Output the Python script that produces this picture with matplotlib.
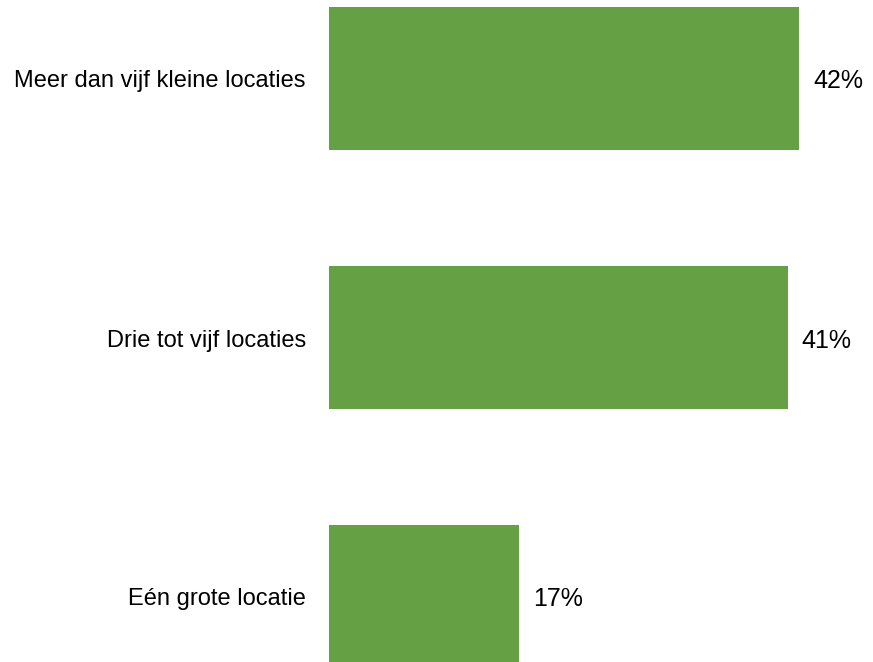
import matplotlib
matplotlib.use("Agg")
import matplotlib.pyplot as plt

categories = ["Meer dan vijf kleine locaties", "Drie tot vijf locaties", "Eén grote locatie"]
values = [42, 41, 17]
value_labels = ["42%", "41%", "17%"]

plt.rcParams['font.family'] = ['Liberation Sans', 'DejaVu Sans']

W, H = 873, 662
fig = plt.figure(figsize=(W / 100, H / 100), dpi=100)
ax = fig.add_axes([329 / W, 0, 1 - 329 / W, 1])

px_per_unit = 11.19
spacing = 259.0
ypos = list(range(len(categories)))
ax.barh(ypos, values, height=143 / spacing, color="#65A044", edgecolor="none")

ax.set_xlim(0, (W - 329) / px_per_unit)
top = -78.5 / spacing
bottom = (H - 78.5) / spacing
ax.set_ylim(bottom, top)

for y, v, lab, cat in zip(ypos, values, value_labels, categories):
    ax.annotate(lab, (v, y), xytext=(14, -3), textcoords="offset pixels",
                va="center", ha="left", fontsize=18, color="#000000")
    ax.annotate(cat, (0, y), xytext=(-23, -3), textcoords="offset pixels",
                va="center", ha="right", fontsize=17, color="#000000",
                annotation_clip=False)

ax.axis("off")
fig.savefig("out.png", dpi=100, facecolor="white")
